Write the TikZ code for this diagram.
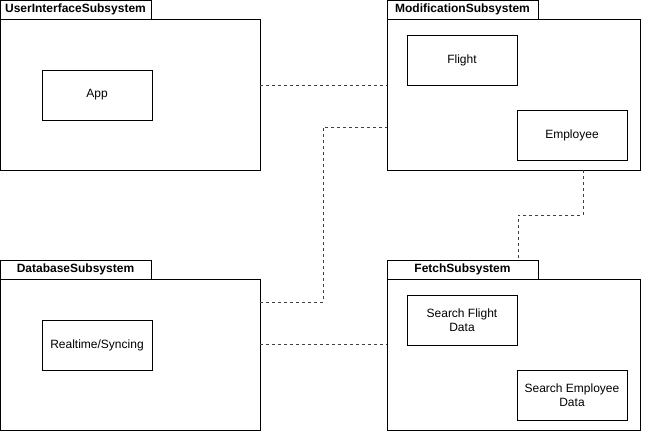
\documentclass[tikz,border=0pt]{standalone}
\usepackage{fontspec}
\setmainfont{Liberation Sans}
\tikzset{
	pkgbody/.style={draw, line width=0.8pt, inner sep=0pt},
	pkgtab/.style={draw, line width=0.8pt, inner sep=0pt, minimum width=151pt, minimum height=19pt, font=\fontsize{12pt}{14pt}\selectfont\bfseries},
	comp/.style={draw, line width=0.8pt, minimum width=110pt, minimum height=50pt, inner sep=2pt, align=center, font=\fontsize{12pt}{14pt}\selectfont},
	dep/.style={draw=black!75, line width=0.8pt, dash pattern=on 3pt off 3pt}
}
\begin{document}
\begin{tikzpicture}[x=1pt,y=-1pt]
	\useasboundingbox (0,0) rectangle (648,432);
	\node[pkgbody, minimum width=260pt, minimum height=151pt](ui) at (130,94.5) {};
	\node[pkgtab](uitab) at (75.5,9.5) {UserInterfaceSubsystem};
	\node[comp](app) at (97,95) {App};
	\node[pkgbody, minimum width=253pt, minimum height=151pt](mod) at (513.5,94.5) {};
	\node[pkgtab](modtab) at (462.5,9.5) {ModificationSubsystem};
	\node[comp](flight) at (462,60) {Flight};
	\node[comp](employee) at (572,135) {Employee};
	\node[pkgbody, minimum width=260pt, minimum height=151pt](db) at (130,354.5) {};
	\node[pkgtab](dbtab) at (75.5,269.5) {DatabaseSubsystem};
	\node[comp](realtime) at (97,345) {Realtime/Syncing};
	\node[pkgbody, minimum width=253pt, minimum height=151pt](fetch) at (513.5,354.5) {};
	\node[pkgtab](fetchtab) at (462.5,269.5) {FetchSubsystem};
	\node[comp](searchflight) at (462,320) {Search Flight\\Data};
	\node[comp](searchemployee) at (572,395) {Search Employee\\Data};
	\draw[dep] ([yshift=9.5pt]ui.east) -- ([yshift=9.5pt]mod.west);
	\draw[dep] ([yshift=52.5pt]db.east) -- ++(63,0) |- ([yshift=-32.5pt]mod.west);
	\draw[dep] ([yshift=10.5pt]db.east) -- ([yshift=10.5pt]fetch.west);
	\draw[dep] ([xshift=69.5pt]mod.south) -- ++(0,45) -| ([xshift=55.5pt]fetchtab.north);
\end{tikzpicture}
\end{document}
